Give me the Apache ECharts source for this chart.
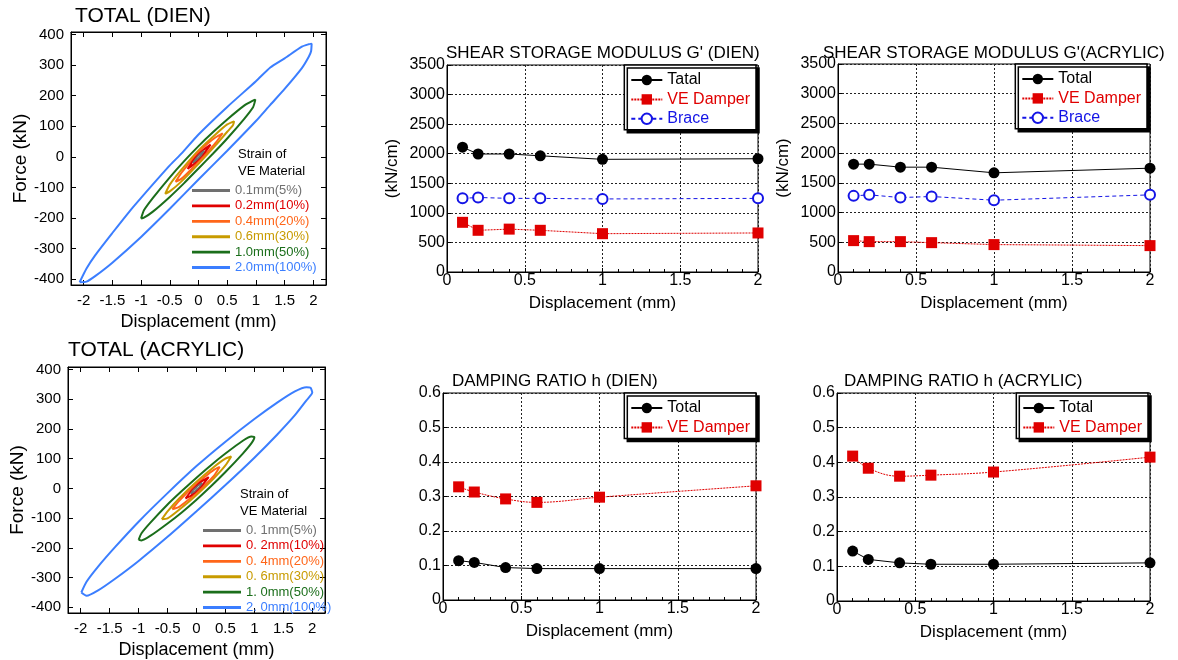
<!DOCTYPE html>
<html><head><meta charset="utf-8">
<script src="https://cdn.jsdelivr.net/npm/echarts@6/dist/echarts.min.js"></script>
<style>html,body{margin:0;padding:0;background:#fff}#c{width:1178px;height:660px}</style>
</head><body><div id="c"></div>
<script>
// ---------- data ----------
const dispPoints = [0.1, 0.2, 0.4, 0.6, 1.0, 2.0];
const gDienTotal = [2110, 1995, 1995, 1965, 1905, 1915];
const gDienVE    = [840, 705, 725, 705, 648, 660];
const gDienBrace = [1245, 1260, 1245, 1245, 1235, 1245];
const gAcrTotal  = [1815, 1815, 1764, 1764, 1669, 1747];
const gAcrVE     = [528, 511, 511, 494, 461, 444];
const gAcrBrace  = [1281, 1298, 1253, 1270, 1208, 1298];
const hDienTotal = [0.114, 0.109, 0.094, 0.091, 0.091, 0.091];
const hDienVE    = [0.328, 0.313, 0.293, 0.283, 0.298, 0.331];
const hAcrTotal  = [0.144, 0.120, 0.110, 0.106, 0.106, 0.110];
const hAcrVE     = [0.418, 0.383, 0.360, 0.363, 0.372, 0.415];

const hystXTicks = [-2, -1.5, -1, -0.5, 0, 0.5, 1, 1.5, 2];
const hystYTicks = [-400, -300, -200, -100, 0, 100, 200, 300, 400];

const dienLoopNames = ['0.1mm(5%)', '0.2mm(10%)', '0.4mm(20%)', '0.6mm(30%)', '1.0mm(50%)', '2.0mm(100%)'];
const acrLoopNames  = ['0. 1mm(5%)', '0. 2mm(10%)', '0. 4mm(20%)', '0. 6mm(30%)', '1. 0mm(50%)', '2. 0mm(100%)'];

// hysteresis loops [displacement mm, force kN] (TOTAL DIEN)
const dienLoop01 = [[-0.1,-20],[-0.05,-7],[0,4],[0.05,13],[0.1,20],[0.05,6],[0,-4],[-0.05,-13],[-0.1,-20]];
const dienLoop02 = [[-0.19,-40],[-0.1,-14],[0,8],[0.1,25],[0.21,40],[0.1,12],[0,-8],[-0.1,-27],[-0.19,-40]];
const dienLoop04 = [[-0.40,-82],[-0.3,-53],[-0.15,-18],[0,15],[0.15,42],[0.3,64],[0.42,77],[0.3,46],[0.15,14],[0,-15],[-0.15,-45],[-0.3,-72],[-0.40,-82]];
const dienLoop06 = [[-0.58,-121],[-0.5,-91],[-0.3,-43],[0,21],[0.3,74],[0.5,106],[0.62,116],[0.6,103],[0.5,82],[0.3,38],[0,-23],[-0.3,-81],[-0.5,-113],[-0.58,-121]];
const dienLoop10 = [[-1.0,-202],[-0.95,-175],[-0.8,-136],[-0.5,-67],[-0.25,-14],[0,35],[0.25,80],[0.5,122],[0.8,168],[0.95,184],[0.99,187],[0.95,162],[0.8,125],[0.5,60],[0.25,10],[0,-38],[-0.25,-86],[-0.5,-131],[-0.8,-180],[-0.95,-199],[-1.0,-202]];
const dienLoop20 = [[-2.07,-410],[-1.95,-365],[-1.8,-322],[-1.5,-249],[-1.2,-178],[-1.0,-134],[-0.5,-28],[-0.29,12],[0,73],[0.5,163],[1.0,247],[1.25,292],[1.5,322],[1.8,360],[1.92,368],[1.97,370],[1.96,345],[1.92,327],[1.8,290],[1.5,222],[1.25,170],[1.0,117],[0.5,20],[0,-74],[-0.5,-170],[-1.0,-262],[-1.5,-346],[-1.8,-390],[-1.95,-408],[-2.07,-410]];

// hysteresis loops (TOTAL ACRYLIC)
const acrLoop01 = [[-0.1,-18],[-0.05,-5],[0,4],[0.05,13],[0.1,18],[0.05,5],[0,-4],[-0.05,-13],[-0.1,-18]];
const acrLoop02 = [[-0.19,-34],[-0.1,-11],[0,8],[0.1,25],[0.21,38],[0.1,11],[0,-8],[-0.1,-25],[-0.19,-34]];
const acrLoop04 = [[-0.42,-70],[-0.3,-42],[-0.15,-12],[0,15],[0.15,40],[0.3,62],[0.40,72],[0.3,42],[0.15,12],[0,-15],[-0.15,-40],[-0.3,-62],[-0.42,-70]];
const acrLoop06 = [[-0.6,-104],[-0.5,-77],[-0.3,-34],[0,22],[0.3,72],[0.5,100],[0.6,107],[0.5,77],[0.3,34],[0,-22],[-0.3,-72],[-0.5,-101],[-0.6,-104]];
const acrLoop10 = [[-1.0,-173],[-0.95,-151],[-0.8,-116],[-0.5,-54],[-0.25,-8],[0,36],[0.25,78],[0.5,117],[0.8,160],[0.95,174],[1.0,172],[0.95,152],[0.8,117],[0.5,55],[0.25,7],[0,-38],[-0.25,-80],[-0.5,-118],[-0.8,-160],[-0.95,-175],[-1.0,-173]];
const acrLoop20 = [[-1.99,-350],[-1.9,-314],[-1.7,-263],[-1.4,-196],[-1.0,-112],[-0.5,-16],[0,75],[0.5,157],[1.0,233],[1.4,289],[1.7,326],[1.9,340],[1.97,338],[2.0,322],[1.9,296],[1.7,246],[1.4,182],[1.0,103],[0.5,11],[0,-77],[-0.5,-163],[-1.0,-244],[-1.4,-303],[-1.7,-343],[-1.9,-361],[-1.99,-350]];

// ---------- styling ----------
const FONT = '"Liberation Sans", Arial, Helvetica, sans-serif';
const loopColors = ['#707070', '#e00000', '#ff6619', '#c89b00', '#1b6e1b', '#3b7eff'];
const loopWidths = [1.5, 2, 2, 2, 2, 2];
const cTotal = '#000000', cVE = '#e00000', cBrace = '#1414e6';

const dienLoops = [dienLoop01, dienLoop02, dienLoop04, dienLoop06, dienLoop10, dienLoop20];
const acrLoops  = [acrLoop01, acrLoop02, acrLoop04, acrLoop06, acrLoop10, acrLoop20];

const grids = [
  {left: 71, top: 32, width: 255, height: 253},
  {left: 68, top: 367, width: 257, height: 251},
  {left: 447, top: 65, width: 311, height: 207},
  {left: 838, top: 64, width: 312, height: 208},
  {left: 443, top: 393, width: 313, height: 207},
  {left: 837, top: 393, width: 313, height: 208}
].map(g => Object.assign({show: true, borderColor: '#000', borderWidth: 1, backgroundColor: 'transparent'}, g));

const plain = v => String(Math.round(v * 1e6) / 1e6);
const blackLine = {show: true, onZero: false, lineStyle: {color: '#000', width: 1}};
const xAxes = [], yAxes = [];

function hystAxes(gi) {
  xAxes.push({gridIndex: gi, type: 'value', position: 'bottom', min: -2.22, max: 2.22,
    axisLine: blackLine, splitLine: {show: false},
    axisTick: {inside: true, length: 5, lineStyle: {color: '#000'}, customValues: hystXTicks},
    axisLabel: {customValues: hystXTicks, formatter: plain, color: '#000', fontSize: 15, fontFamily: FONT, margin: 8},
    name: 'Displacement (mm)', nameLocation: 'middle', nameGap: 28,
    nameTextStyle: {fontSize: 18, color: '#000', fontFamily: FONT}});
  xAxes.push({gridIndex: gi, type: 'value', position: 'top', min: -2.22, max: 2.22,
    axisLine: blackLine, splitLine: {show: false},
    axisTick: {inside: true, length: 5, lineStyle: {color: '#000'}, customValues: hystXTicks},
    axisLabel: {show: false}});
  yAxes.push({gridIndex: gi, type: 'value', position: 'left', min: -419, max: 408,
    axisLine: blackLine, splitLine: {show: false},
    axisTick: {inside: true, length: 5, lineStyle: {color: '#000'}, customValues: hystYTicks},
    axisLabel: {customValues: hystYTicks, formatter: plain, color: '#000', fontSize: 15, fontFamily: FONT, margin: 7},
    name: 'Force (kN)', nameLocation: 'middle', nameGap: 40, nameRotate: 90,
    nameTextStyle: {fontSize: 19, color: '#000', fontFamily: FONT}});
  yAxes.push({gridIndex: gi, type: 'value', position: 'right', min: -419, max: 408,
    axisLine: blackLine, splitLine: {show: false},
    axisTick: {inside: true, length: 5, lineStyle: {color: '#000'}, customValues: hystYTicks},
    axisLabel: {show: false}});
}
hystAxes(0);
hystAxes(1);

const dotted = {show: true, lineStyle: {color: '#222', type: [2, 2], width: 1}};
function rightAxes(gi, ymax, yint, yname) {
  xAxes.push({gridIndex: gi, type: 'value', min: 0, max: 2, interval: 0.5,
    axisLine: blackLine, splitLine: dotted,
    axisTick: {inside: true, length: 4, lineStyle: {color: '#000'}},
    minorTick: {show: true, splitNumber: 5, length: 3, lineStyle: {color: '#000'}},
    axisLabel: {formatter: plain, color: '#000', fontSize: 16, fontFamily: FONT, margin: 1},
    name: 'Displacement (mm)', nameLocation: 'middle', nameGap: 23,
    nameTextStyle: {fontSize: 17, color: '#000', fontFamily: FONT}});
  yAxes.push({gridIndex: gi, type: 'value', min: 0, max: ymax, interval: yint,
    axisLine: blackLine, splitLine: dotted,
    axisTick: {inside: true, length: 4, lineStyle: {color: '#000'}},
    axisLabel: {formatter: plain, color: '#000', fontSize: 16, fontFamily: FONT, margin: 2},
    name: yname, nameLocation: 'middle', nameGap: 46, nameRotate: 90,
    nameTextStyle: {fontSize: 17, color: '#000', fontFamily: FONT}});
}
rightAxes(2, 3500, 500, '(kN/cm)');
rightAxes(3, 3500, 500, '(kN/cm)');
rightAxes(4, 0.6, 0.1, '');
rightAxes(5, 0.6, 0.1, '');

const series = [];
function addLoops(loops, names, axisIdx) {
  for (let i = loops.length - 1; i >= 0; i--) {
    series.push({type: 'line', name: names[i], xAxisIndex: axisIdx, yAxisIndex: axisIdx,
      data: loops[i], symbol: 'none', showSymbol: false, smooth: 0.2,
      lineStyle: {color: loopColors[i], width: loopWidths[i]}, itemStyle: {color: loopColors[i]}});
  }
}
addLoops(dienLoops, dienLoopNames, 0);
addLoops(acrLoops, acrLoopNames, 2);

const pts = arr => dispPoints.map((x, i) => [x, arr[i]]);
function sTotal(name, arr, ai) {
  return {type: 'line', name, xAxisIndex: ai, yAxisIndex: ai, data: pts(arr),
    symbol: 'circle', symbolSize: 11, lineStyle: {color: cTotal, width: 1}, itemStyle: {color: cTotal}, z: 4};
}
function sVE(arr, ai, smooth) {
  return {type: 'line', name: 'VE Damper', xAxisIndex: ai, yAxisIndex: ai, data: pts(arr), smooth,
    symbol: 'rect', symbolSize: 11, lineStyle: {color: cVE, width: 1, type: [2, 1]}, itemStyle: {color: cVE}, z: 3};
}
function sBrace(arr, ai) {
  return {type: 'line', name: 'Brace', xAxisIndex: ai, yAxisIndex: ai, data: pts(arr),
    symbol: 'emptyCircle', symbolSize: 10, lineStyle: {color: cBrace, width: 1, type: [4, 3]},
    itemStyle: {color: cBrace, borderColor: cBrace, borderWidth: 1}, z: 3};
}
series.push(sTotal('Tatal', gDienTotal, 4), sVE(gDienVE, 4, false), sBrace(gDienBrace, 4));
series.push(sTotal('Total', gAcrTotal, 5), sVE(gAcrVE, 5, false), sBrace(gAcrBrace, 5));
series.push(sTotal('Total', hDienTotal, 6), sVE(hDienVE, 6, 0.4));
series.push(sTotal('Total', hAcrTotal, 7), sVE(hAcrVE, 7, 0.4));

const lineIcon = 'path://M0 0H40V3H0Z';
function hystLegend(names, left, top) {
  return {left, top, orient: 'vertical', padding: 0, itemWidth: 38, itemHeight: 14, itemGap: 2.4,
    selectedMode: false, symbolKeepAspect: true,
    textStyle: {fontSize: 13, fontFamily: FONT},
    data: names.map((n, i) => ({name: n, icon: lineIcon, textStyle: {color: loopColors[i]}}))};
}
function boxLegend(items, right, top) {
  return {right, top, orient: 'vertical', padding: [7, 6, 3, 6], itemWidth: 31, itemHeight: 13, itemGap: 3.4,
    selectedMode: false, backgroundColor: '#fff', borderColor: '#000', borderWidth: 1.5,
    shadowColor: '#000', shadowBlur: 0, shadowOffsetX: 3, shadowOffsetY: 3,
    textStyle: {fontSize: 16, fontFamily: FONT},
    data: items.map(([n, c]) => ({name: n, textStyle: {color: c}}))};
}
const legends = [
  hystLegend(dienLoopNames, 192, 184),
  hystLegend(acrLoopNames, 203, 524),
  boxLegend([['Tatal', cTotal], ['VE Damper', cVE], ['Brace', cBrace]], 422, 65),
  boxLegend([['Total', cTotal], ['VE Damper', cVE], ['Brace', cBrace]], 31, 64),
  boxLegend([['Total', cTotal], ['VE Damper', cVE]], 422, 393),
  boxLegend([['Total', cTotal], ['VE Damper', cVE]], 30, 393)
];

const tstyle = (fs) => ({fontSize: fs, fontWeight: 'normal', color: '#000', fontFamily: FONT});
const titles = [
  {text: 'TOTAL (DIEN)', left: 75, top: 6, padding: 0, textStyle: tstyle(21)},
  {text: 'TOTAL (ACRYLIC)', left: 68, top: 340, padding: 0, textStyle: tstyle(21)},
  {text: "SHEAR STORAGE MODULUS G' (DIEN)", left: 446, top: 45, padding: 0, textStyle: tstyle(17)},
  {text: "SHEAR STORAGE MODULUS G'(ACRYLIC)", left: 823, top: 45, padding: 0, textStyle: tstyle(17)},
  {text: 'DAMPING RATIO h (DIEN)', left: 452, top: 373, padding: 0, textStyle: tstyle(17)},
  {text: 'DAMPING RATIO h (ACRYLIC)', left: 844, top: 373, padding: 0, textStyle: tstyle(17)},
  {text: 'Strain of\nVE Material', left: 238, top: 146, padding: 0, textStyle: Object.assign(tstyle(13), {lineHeight: 17})},
  {text: 'Strain of\nVE Material', left: 240, top: 486, padding: 0, textStyle: Object.assign(tstyle(13), {lineHeight: 17})}
];

const chart = echarts.init(document.getElementById('c'), null, {renderer: 'canvas'});
chart.setOption({
  animation: false,
  backgroundColor: '#fff',
  title: titles,
  legend: legends,
  grid: grids,
  xAxis: xAxes,
  yAxis: yAxes,
  series: series
});
</script>
</body></html>
